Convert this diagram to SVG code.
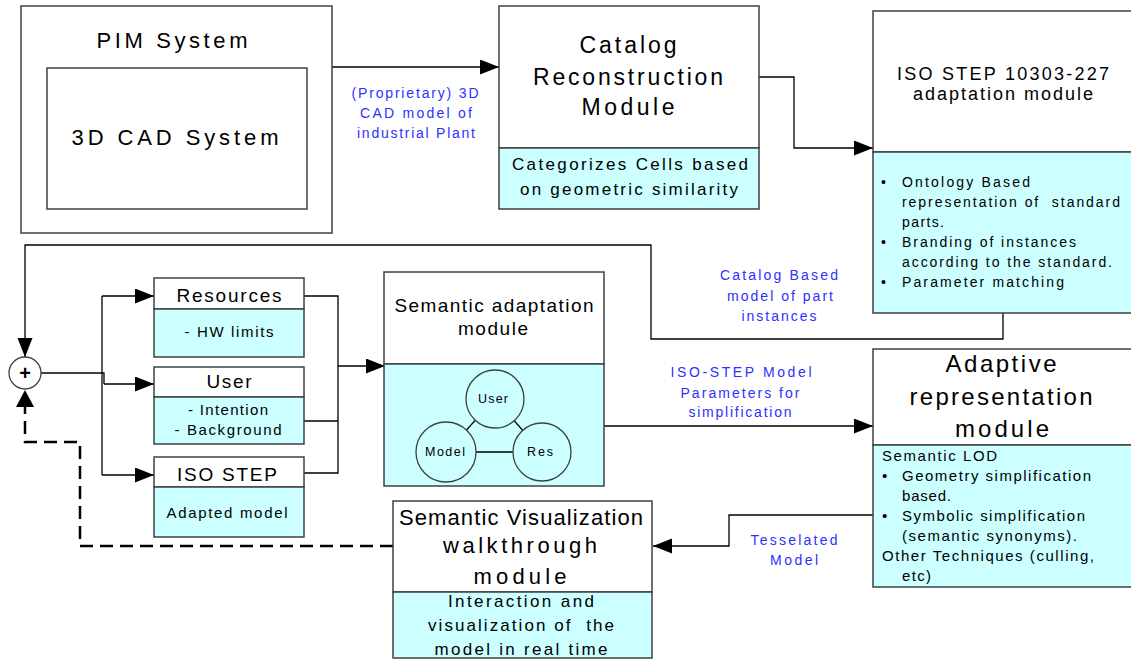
<svg xmlns="http://www.w3.org/2000/svg" width="1131" height="660" viewBox="0 0 1131 660">
<style>
.box{fill:#fff;stroke:#404040;stroke-width:1.5}
.cy{fill:#ccffff;stroke:#404040;stroke-width:1.5}
.t{font-family:"Liberation Sans",Arial,sans-serif;fill:#000}
.c{text-anchor:middle}
.b{font-family:"Liberation Sans",Arial,sans-serif;fill:#2f2fff;text-anchor:middle;font-size:14px}
.pre{white-space:pre}
.ln{fill:none;stroke:#000;stroke-width:1.3}
.ar{marker-end:url(#ah)}
.dash{fill:none;stroke:#000;stroke-width:2.5;stroke-dasharray:13,7}
</style>
<defs>
<marker id="ah" markerUnits="userSpaceOnUse" markerWidth="20" markerHeight="16" refX="19" refY="7.5" orient="auto">
<path d="M0,0 L19,7.5 L0,15 z" fill="#000"/>
</marker>
</defs>
<g id="connectors">
<path class="ln ar" d="M332,67 H499"/>
<path class="ln ar" d="M759,77 H794 V148 H873"/>
<path class="ln ar" d="M1003,313 V339 H651 V245 H25 V357"/>
<path class="dash" d="M393,546 H80 V442 H25 V407"/>
<path d="M25,390 L34,407 L16,407 z" fill="#000"/>
<path class="ln" d="M41,373 H104 V384"/>
<path class="ln" d="M102,296 V475"/>
<path class="ln ar" d="M102,296 H154"/>
<path class="ln ar" d="M104,384 H154"/>
<path class="ln ar" d="M102,475 H154"/>
<path class="ln" d="M304,296 H338 V473 H304"/>
<path class="ln" d="M304,421 H338"/>
<path class="ln ar" d="M338,366 H385"/>
<path class="ln ar" d="M604,426 H873"/>
<path class="ln ar" d="M873,515 H729 V546 H653"/>
</g>
<g id="pim">
<rect class="box" x="21" y="6" width="311" height="227"/>
<text class="t c" x="172" y="48" font-size="22" textLength="151">PIM System</text>
<rect class="box" x="47" y="68" width="260" height="141"/>
<text class="t c" x="175" y="145" font-size="22" textLength="207">3D CAD System</text>
</g>
<g id="lbl-cad">
<text class="b" x="415" y="98" textLength="127">(Proprietary) 3D</text>
<text class="b" x="416" y="118" textLength="112">CAD model of</text>
<text class="b" x="416" y="138" textLength="118">industrial Plant</text>
</g>
<g id="catalog">
<rect class="box" x="499" y="6" width="260" height="142"/>
<rect class="cy" x="499" y="148" width="260" height="61"/>
<text class="t c" x="628" y="53" font-size="23" textLength="97">Catalog</text>
<text class="t c" x="628" y="85" font-size="23" textLength="190">Reconstruction</text>
<text class="t c" x="628" y="115" font-size="23" textLength="93">Module</text>
<text class="t c" x="630" y="170" font-size="17" textLength="236">Categorizes Cells based</text>
<text class="t c" x="629" y="195" font-size="17" textLength="218">on geometric similarity</text>
</g>
<g id="iso227">
<rect class="box" x="873" y="11" width="270" height="141"/>
<rect class="cy" x="873" y="152" width="270" height="161"/>
<text class="t c" x="1003" y="80" font-size="18" textLength="212">ISO STEP 10303-227</text>
<text class="t c" x="1003" y="100" font-size="18" textLength="180">adaptation module</text>
<g class="t" font-size="14">
<text x="881" y="187">•</text><text x="902" y="187" textLength="128">Ontology Based</text>
<text class="pre" x="902" y="207" textLength="218">representation of  standard</text>
<text x="902" y="227" textLength="42">parts.</text>
<text x="881" y="247">•</text><text x="902" y="247" textLength="174">Branding of instances</text>
<text x="902" y="267" textLength="210">according to the standard.</text>
<text x="881" y="287">•</text><text x="902" y="287" textLength="162">Parameter matching</text>
</g>
</g>
<g id="lbl-catalog">
<text class="b" x="779" y="280" textLength="118">Catalog Based</text>
<text class="b" x="780" y="301" textLength="106">model of part</text>
<text class="b" x="779" y="321" textLength="75">instances</text>
</g>
<g id="sum">
<circle cx="25" cy="373" r="16" fill="#fff" stroke="#404040" stroke-width="1.3"/>
<text class="t c" x="25" y="380" font-size="20" font-weight="bold">+</text>
</g>
<g id="resources">
<rect class="box" x="154" y="278" width="150" height="31"/>
<rect class="cy" x="154" y="309" width="150" height="48"/>
<text class="t c" x="229" y="302" font-size="19" textLength="105">Resources</text>
<text class="t c" x="229" y="337" font-size="15" textLength="89">- HW limits</text>
</g>
<g id="user">
<rect class="box" x="154" y="367" width="150" height="30"/>
<rect class="cy" x="154" y="397" width="150" height="47"/>
<text class="t c" x="229" y="388" font-size="19" textLength="45">User</text>
<text class="t c" x="228" y="415" font-size="15" textLength="80">- Intention</text>
<text class="t c" x="228" y="435" font-size="15" textLength="107">- Background</text>
</g>
<g id="isostep">
<rect class="box" x="154" y="457" width="150" height="30"/>
<rect class="cy" x="154" y="487" width="150" height="50"/>
<text class="t c" x="227" y="481" font-size="19" textLength="100">ISO STEP</text>
<text class="t c" x="227" y="518" font-size="15" textLength="121">Adapted model</text>
</g>
<g id="semantic-adaptation">
<rect class="box" x="384" y="272" width="220" height="92"/>
<rect class="cy" x="384" y="364" width="220" height="122"/>
<text class="t c" x="494" y="312" font-size="19" textLength="199">Semantic adaptation</text>
<text class="t c" x="493" y="335" font-size="19" textLength="70">module</text>
<path class="ln" d="M495,399 L446,452 L542,452 Z"/>
<g fill="#ccffff" stroke="#404040" stroke-width="1.3">
<circle cx="495" cy="399" r="29"/>
<circle cx="446" cy="452" r="30"/>
<circle cx="542" cy="452" r="29"/>
</g>
<g class="t c" font-size="12.5">
<text x="493" y="403" textLength="30">User</text>
<text x="445" y="456" textLength="40">Model</text>
<text x="540" y="456" textLength="26">Res</text>
</g>
</g>
<g id="lbl-iso-model">
<text class="b" x="741" y="377" font-size="15" textLength="141">ISO-STEP Model</text>
<text class="b" x="740" y="398" font-size="15" textLength="119">Parameters for</text>
<text class="b" x="740" y="417" font-size="15" textLength="103">simplification</text>
</g>
<g id="adaptive">
<rect class="box" x="873" y="349" width="270" height="96"/>
<rect class="cy" x="873" y="445" width="270" height="142"/>
<text class="t c" x="1001" y="372" font-size="24" textLength="111">Adaptive</text>
<text class="t c" x="1001" y="405" font-size="24" textLength="183">representation</text>
<text class="t c" x="1002" y="437" font-size="24" textLength="94">module</text>
<g class="t" font-size="15">
<text x="882" y="461" textLength="115">Semantic LOD</text>
<text x="882" y="481">•</text><text x="902" y="481" textLength="189">Geometry simplification</text>
<text x="902" y="501" textLength="49">based.</text>
<text x="882" y="521">•</text><text x="902" y="521" textLength="183">Symbolic simplification</text>
<text x="902" y="541" textLength="175">(semantic synonyms).</text>
<text x="882" y="561" textLength="212">Other Techniques (culling,</text>
<text x="902" y="581" textLength="29">etc)</text>
</g>
</g>
<g id="lbl-tess">
<text class="b" x="794" y="545" textLength="87">Tesselated</text>
<text class="b" x="794" y="565" textLength="48">Model</text>
</g>
<g id="semantic-vis">
<rect class="box" x="393" y="501" width="259" height="91"/>
<rect class="cy" x="393" y="592" width="259" height="66"/>
<text class="t c" x="521" y="525" font-size="22" textLength="244">Semantic Visualization</text>
<text class="t c" x="520" y="553" font-size="22" textLength="154">walkthrough</text>
<text class="t c" x="520" y="584" font-size="22" textLength="93">module</text>
<text class="t c" x="521" y="607" font-size="17" textLength="146">Interaction and</text>
<text class="t c pre" x="521" y="631" font-size="17" textLength="186">visualization of  the</text>
<text class="t c" x="521" y="655" font-size="17" textLength="173">model in real time</text>
</g>
</svg>
